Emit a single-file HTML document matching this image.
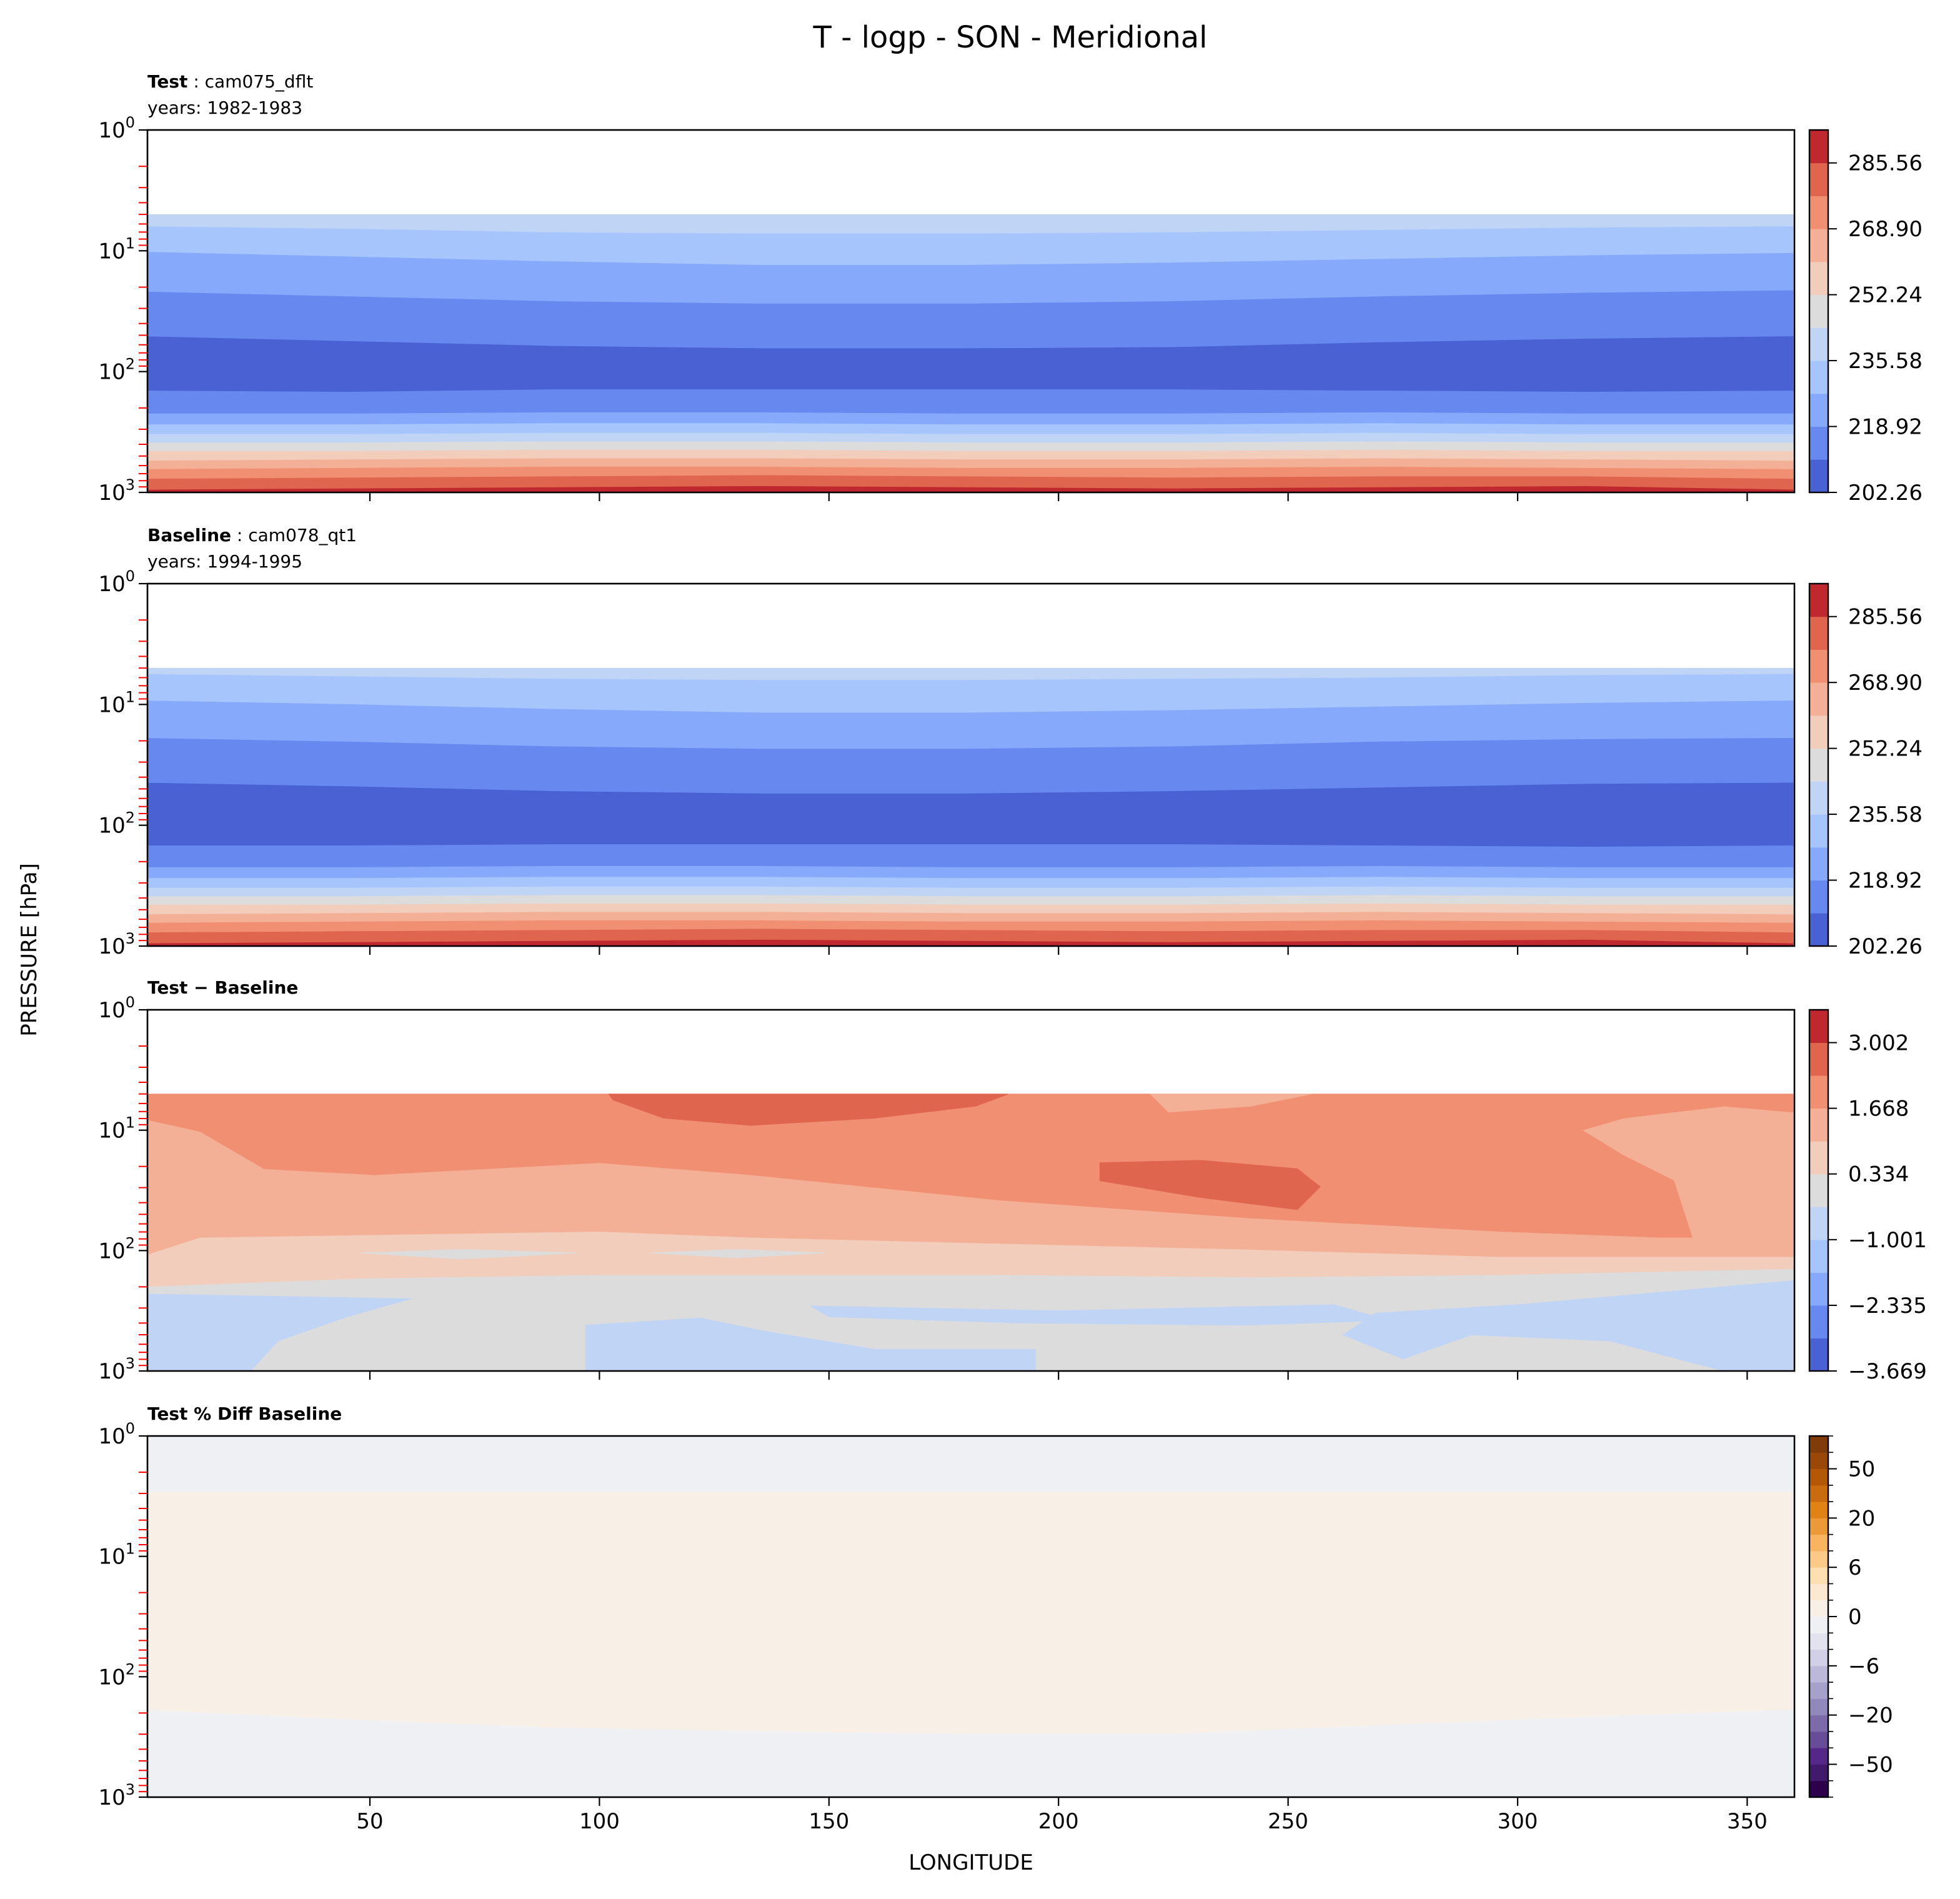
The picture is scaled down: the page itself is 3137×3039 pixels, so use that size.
<!DOCTYPE html>
<html><head><meta charset="utf-8"><style>
html,body{margin:0;padding:0;background:#fff;}
svg text{font-family:"DejaVu Sans","Liberation Sans",sans-serif;}
</style></head><body>
<svg id="fig" xmlns="http://www.w3.org/2000/svg" width="3137" height="3034" viewBox="0 0 3137 3034">
<text x="1617" y="76" font-size="48" text-anchor="middle">T - logp - SON - Meridional</text>
<text x="236" y="140" font-size="28"><tspan font-weight="bold">Test</tspan> : cam075_dflt</text>
<text x="236" y="182" font-size="28">years: 1982-1983</text>
<text x="236" y="866" font-size="28"><tspan font-weight="bold">Baseline</tspan> : cam078_qt1</text>
<text x="236" y="908" font-size="28">years: 1994-1995</text>
<text x="236" y="1590" font-size="28" font-weight="bold">Test − Baseline</text>
<text x="236" y="2272" font-size="28" font-weight="bold">Test % Diff Baseline</text>
<text x="1554" y="2992" font-size="34" text-anchor="middle">LONGITUDE</text>
<text x="58" y="1520" font-size="34" text-anchor="middle" transform="rotate(-90 58 1520)">PRESSURE [hPa]</text>
</svg>
<script>
// ---- data ----
const lons = [0,45,90,135,180,225,270,315,360];
const xTicks = [50,100,150,200,250,300,350];
const yDecades = [0,1,2,3];
// panel 1 (Test) band boundaries, log10(p)
const t_b0=[0.70,0.70,0.70,0.70,0.70,0.70,0.70,0.70,0.70];
const t_b1=[0.80,0.82,0.85,0.86,0.86,0.85,0.83,0.81,0.80];
const t_b2=[1.01,1.05,1.09,1.12,1.12,1.10,1.07,1.04,1.02];
const t_b3=[1.34,1.38,1.42,1.44,1.44,1.42,1.38,1.35,1.33];
const t_b4=[1.71,1.75,1.79,1.81,1.81,1.80,1.76,1.73,1.71];
const t_b5=[2.16,2.17,2.15,2.15,2.15,2.15,2.16,2.17,2.16];
// panel 2 (Baseline)
const b_b0=[0.70,0.70,0.70,0.70,0.70,0.70,0.70,0.70,0.70];
const b_b1=[0.75,0.77,0.79,0.80,0.80,0.79,0.78,0.76,0.75];
const b_b2=[0.97,1.00,1.04,1.07,1.07,1.05,1.02,0.99,0.97];
const b_b3=[1.28,1.31,1.35,1.37,1.37,1.35,1.31,1.29,1.28];
const b_b4=[1.65,1.68,1.72,1.74,1.74,1.72,1.69,1.66,1.65];
const b_b5=[2.17,2.17,2.16,2.16,2.16,2.16,2.17,2.18,2.17];
// shared lower troposphere boundaries
const low_b6=[2.35,2.35,2.34,2.34,2.35,2.35,2.34,2.35,2.35];
const low_b7=[2.44,2.44,2.43,2.43,2.44,2.44,2.43,2.44,2.44];
const low_b8=[2.52,2.52,2.51,2.51,2.52,2.52,2.51,2.52,2.52];
const low_b9=[2.59,2.59,2.58,2.58,2.59,2.59,2.58,2.59,2.59];
const low_b10=[2.66,2.66,2.65,2.65,2.66,2.66,2.65,2.66,2.66];
const low_b11=[2.74,2.73,2.72,2.72,2.73,2.73,2.72,2.73,2.74];
const low_b12=[2.81,2.80,2.79,2.79,2.80,2.80,2.79,2.80,2.81];
const low_b13=[2.89,2.88,2.87,2.86,2.87,2.88,2.87,2.87,2.89];
const low_b14=[2.98,2.97,2.96,2.95,2.96,2.97,2.96,2.95,2.98];
const bandColorIdx=[4,3,2,1,0,1,2,3,4,5,6,7,8,9,10];
// colormaps
const coolwarm=['#4961d2','#6788ee','#87a9fb','#a7c5fd','#c0d4f5','#dcdcdc','#f2cdbb','#f4b096','#f08f72','#e0654f','#c0282f'];
const tLevels=[202.26,210.59,218.92,227.25,235.58,243.91,252.24,260.57,268.90,277.23,285.56,293.89];
const tTickLabels=['202.26','218.92','235.58','252.24','268.90','285.56'];
const dLevels=[-3.669,-3.002,-2.335,-1.668,-1.001,-0.334,0.334,1.001,1.668,2.335,3.002,3.669];
const dTickLabels=['−3.669','−2.335','−1.001','0.334','1.668','3.002'];
const pLevels=[-100,-75,-50,-40,-30,-20,-15,-10,-6,-4,-2,0,2,4,6,10,15,20,30,40,50,75,100];
const pTickVals=[-50,-20,-6,0,6,20,50];
const pColors=['#2d004b','#411a6c','#542788','#674c98','#7c6aa9','#9188bb','#a6a1cb','#bcb8d9','#d0d1e6','#e2e3ef','#eef0f4','#f8f0e7','#fde8d2','#fedfb2','#fdc987','#f8b45e','#ec9a39','#e08214','#c96b0f','#b35806','#9a4807','#7f3b08'];
// panel 3 difference regions (lon, logp pairs)
const d_idx6=[[0,0.70],[360,0.70],[360,2.15],[296,2.20],[242,2.22],[187,2.20],[100,2.20],[48,2.23],[0,2.30]];
const d_idx7=[[0,0.70],[360,0.70],[360,2.05],[296,2.05],[242,1.99],[187,1.94],[133,1.89],[100,1.84],[48,1.87],[13,1.89],[0,2.05]];
const d_idx8=[[0,0.70],[360,0.70],[360,0.85],[345,0.80],[323,0.90],[314,1.00],[323,1.21],[334,1.42],[338,1.89],[331,1.89],[296,1.84],[242,1.73],[187,1.58],[133,1.37],[100,1.27],[51,1.37],[27,1.32],[13,1.01],[0,0.90]];
const d_idx7b=[[220,0.70],[224,0.85],[242,0.80],[255,0.70]];
const d_idx9a=[[102,0.70],[189,0.70],[182,0.80],[160,0.90],[133,0.96],[114,0.90],[103,0.75]];
const d_idx9b=[[209,1.27],[209,1.42],[231,1.56],[252,1.66],[257,1.47],[252,1.32],[231,1.25]];
const d_idx5a=[[48,2.02],[70,1.99],[95,2.02],[70,2.07]];
const d_idx5b=[[111,2.02],[130,1.99],[149,2.02],[130,2.06]];
const d_idx5c=[[0,2.30],[48,2.23],[100,2.20],[187,2.20],[242,2.22],[296,2.20],[360,2.15],[360,3.0],[0,3.0]];
const d_idx4a=[[0,2.36],[59,2.40],[45,2.55],[30,2.75],[24,3.0],[0,3.0]];
const d_idx4b=[[97,2.62],[122,2.56],[136,2.67],[160,2.82],[195,2.82],[195,3.0],[97,3.0]];
const d_idx4c=[[146,2.46],[200,2.50],[260,2.45],[272,2.58],[240,2.62],[190,2.60],[150,2.55]];
const d_idx4d=[[269,2.52],[300,2.45],[360,2.25],[360,3.0],[345,3.0],[320,2.75],[290,2.70],[275,2.90],[262,2.70]];
// panel 4 percent-difference
const p_top=[0.47,0.47,0.47,0.47,0.47,0.47,0.47,0.47,0.47];
const p_bot=[2.27,2.35,2.42,2.45,2.47,2.47,2.40,2.33,2.27];

// ---- layout ----
const NS='http://www.w3.org/2000/svg';
const svg=document.getElementById('fig');
const L=236,R=2872;
const panels=[{top:208,bot:788},{top:934,bot:1514},{top:1616,bot:2194},{top:2298,bot:2876}];
const CBX=2896,CBW=30;
const xs=lon=>224.6+lon*7.348;
function ys(p){return lp=>p.top+lp/3*(p.bot-p.top);}
function mk(tag,attrs,parent){const e=document.createElementNS(NS,tag);for(const k in attrs)e.setAttribute(k,attrs[k]);(parent||svg).appendChild(e);return e;}
const defs=mk('defs',{});
panels.forEach((p,i)=>{const c=mk('clipPath',{id:'clip'+i},defs);mk('rect',{x:L,y:p.top,width:R-L,height:p.bot-p.top},c);});

function bandPoly(g,p,upper,lower,color,name){
  const y=ys(p);let pts=[];
  for(let i=0;i<lons.length;i++)pts.push(xs(lons[i])+','+y(upper[i]));
  for(let i=lons.length-1;i>=0;i--)pts.push(xs(lons[i])+','+y(lower[i]));
  const e=mk('polygon',{points:pts.join(' '),fill:color,stroke:color,'stroke-width':1},g);
  
  
}
function regionPoly(g,p,arr,color,name){
  const y=ys(p);
  const e=mk('polygon',{points:arr.map(q=>xs(q[0])+','+y(q[1])).join(' '),fill:color,stroke:color,'stroke-width':1},g);
  
  
}
const bottom=lons.map(()=>3.0);
function tempPanel(pi,bs,name){
  const p=panels[pi];
  const g=mk('g',{'clip-path':'url(#clip'+pi+')'});
  
  
  const all=bs.concat([low_b6,low_b7,low_b8,low_b9,low_b10,low_b11,low_b12,low_b13,low_b14,bottom]);
  for(let k=0;k<all.length-1;k++)bandPoly(g,p,all[k],all[k+1],coolwarm[bandColorIdx[k]],name+'-band');
}
tempPanel(0,[t_b0,t_b1,t_b2,t_b3,t_b4,t_b5],'test');
tempPanel(1,[b_b0,b_b1,b_b2,b_b3,b_b4,b_b5],'baseline');
(function(){
  const p=panels[2];const g=mk('g',{'clip-path':'url(#clip2)'});
  
  
  regionPoly(g,p,d_idx5c,coolwarm[5],'diff-region');
  regionPoly(g,p,d_idx6,coolwarm[6],'diff-region');
  regionPoly(g,p,d_idx7,coolwarm[7],'diff-region');
  regionPoly(g,p,d_idx8,coolwarm[8],'diff-region');
  regionPoly(g,p,d_idx7b,coolwarm[7],'diff-region');
  regionPoly(g,p,d_idx9a,coolwarm[9],'diff-region');
  regionPoly(g,p,d_idx9b,coolwarm[9],'diff-region');
  regionPoly(g,p,d_idx5a,coolwarm[5],'diff-region');
  regionPoly(g,p,d_idx5b,coolwarm[5],'diff-region');
  regionPoly(g,p,d_idx4a,coolwarm[4],'diff-region');
  regionPoly(g,p,d_idx4b,coolwarm[4],'diff-region');
  regionPoly(g,p,d_idx4c,coolwarm[4],'diff-region');
  regionPoly(g,p,d_idx4d,coolwarm[4],'diff-region');
})();
(function(){
  const p=panels[3];const g=mk('g',{'clip-path':'url(#clip3)'});
  
  
  bandPoly(g,p,lons.map(()=>0),bottom,pColors[10],'pctdiff-band');
  bandPoly(g,p,p_top,p_bot,pColors[11],'pctdiff-band');
})();

// axes
panels.forEach((p,pi)=>{
  const y=ys(p);
  const f=mk('rect',{x:L,y:p.top,width:R-L,height:p.bot-p.top,fill:'none',stroke:'#000','stroke-width':2.6});
  
  
  yDecades.forEach(d=>{
    const t=mk('line',{x1:L-14,x2:L,y1:y(d),y2:y(d),stroke:'#000','stroke-width':2.2});
    
    
    const tx=mk('text',{x:L-20,y:y(d)+12,'font-size':34,'text-anchor':'end'});
    
    
    tx.innerHTML='10<tspan font-size="24" dy="-16">'+d+'</tspan>';
    if(d<3)for(let m=2;m<=9;m++){
      const yy=y(d+Math.log10(m));
      const mt=mk('line',{x1:L-14,x2:L,y1:yy,y2:yy,stroke:'#ff0000','stroke-width':2});
      
      
    }
  });
  xTicks.forEach(v=>{
    const t=mk('line',{x1:xs(v),x2:xs(v),y1:p.bot,y2:p.bot+14,stroke:'#000','stroke-width':2.2});
    
    
    if(pi===3){
      const tx=mk('text',{x:xs(v),y:p.bot+50,'font-size':34,'text-anchor':'middle'});
      
      
      tx.textContent=v;
    }
  });
});

// colorbars
function colorbar(pi,levels,colors,tickVals,tickLabels,minor,name){
  const p=panels[pi];const lo=levels[0],hi=levels[levels.length-1];
  const n=levels.length-1;
  const yv=minor? (v=>{const i=levels.indexOf(v);return p.bot-(i/n)*(p.bot-p.top);}) : (v=>p.bot-(v-lo)/(hi-lo)*(p.bot-p.top));
  for(let i=0;i<n;i++){
    const y1=yv(levels[i+1]),y2=yv(levels[i]);
    const r=mk('rect',{x:CBX,y:y1,width:CBW,height:y2-y1+0.5,fill:colors[i]});
    
    
  }
  const fr=mk('rect',{x:CBX,y:p.top,width:CBW,height:p.bot-p.top,fill:'none',stroke:'#000','stroke-width':2.4});
  
  
  if(minor)levels.forEach(v=>{
    const mt=mk('line',{x1:CBX+CBW,x2:CBX+CBW+8,y1:yv(v),y2:yv(v),stroke:'#000','stroke-width':1.6});
    
    
  });
  tickVals.forEach((v,i)=>{
    const t=mk('line',{x1:CBX+CBW,x2:CBX+CBW+14,y1:yv(v),y2:yv(v),stroke:'#000','stroke-width':2});
    
    
    const tx=mk('text',{x:CBX+CBW+32,y:yv(v)+12,'font-size':34});
    
    
    tx.textContent=tickLabels[i];
  });
}
const tTickVals=tTickLabels.map(Number);
const dTickVals=dTickLabels.map(s=>Number(s.replace('−','-')));
colorbar(0,tLevels,coolwarm,tTickVals,tTickLabels,false,'test-colorbar');
colorbar(1,tLevels,coolwarm,tTickVals,tTickLabels,false,'baseline-colorbar');
colorbar(2,dLevels,coolwarm,dTickVals,dTickLabels,false,'diff-colorbar');
colorbar(3,pLevels,pColors,pTickVals,pTickVals.map(v=>v<0?'−'+(-v):String(v)),true,'pctdiff-colorbar');
</script>
</body></html>
